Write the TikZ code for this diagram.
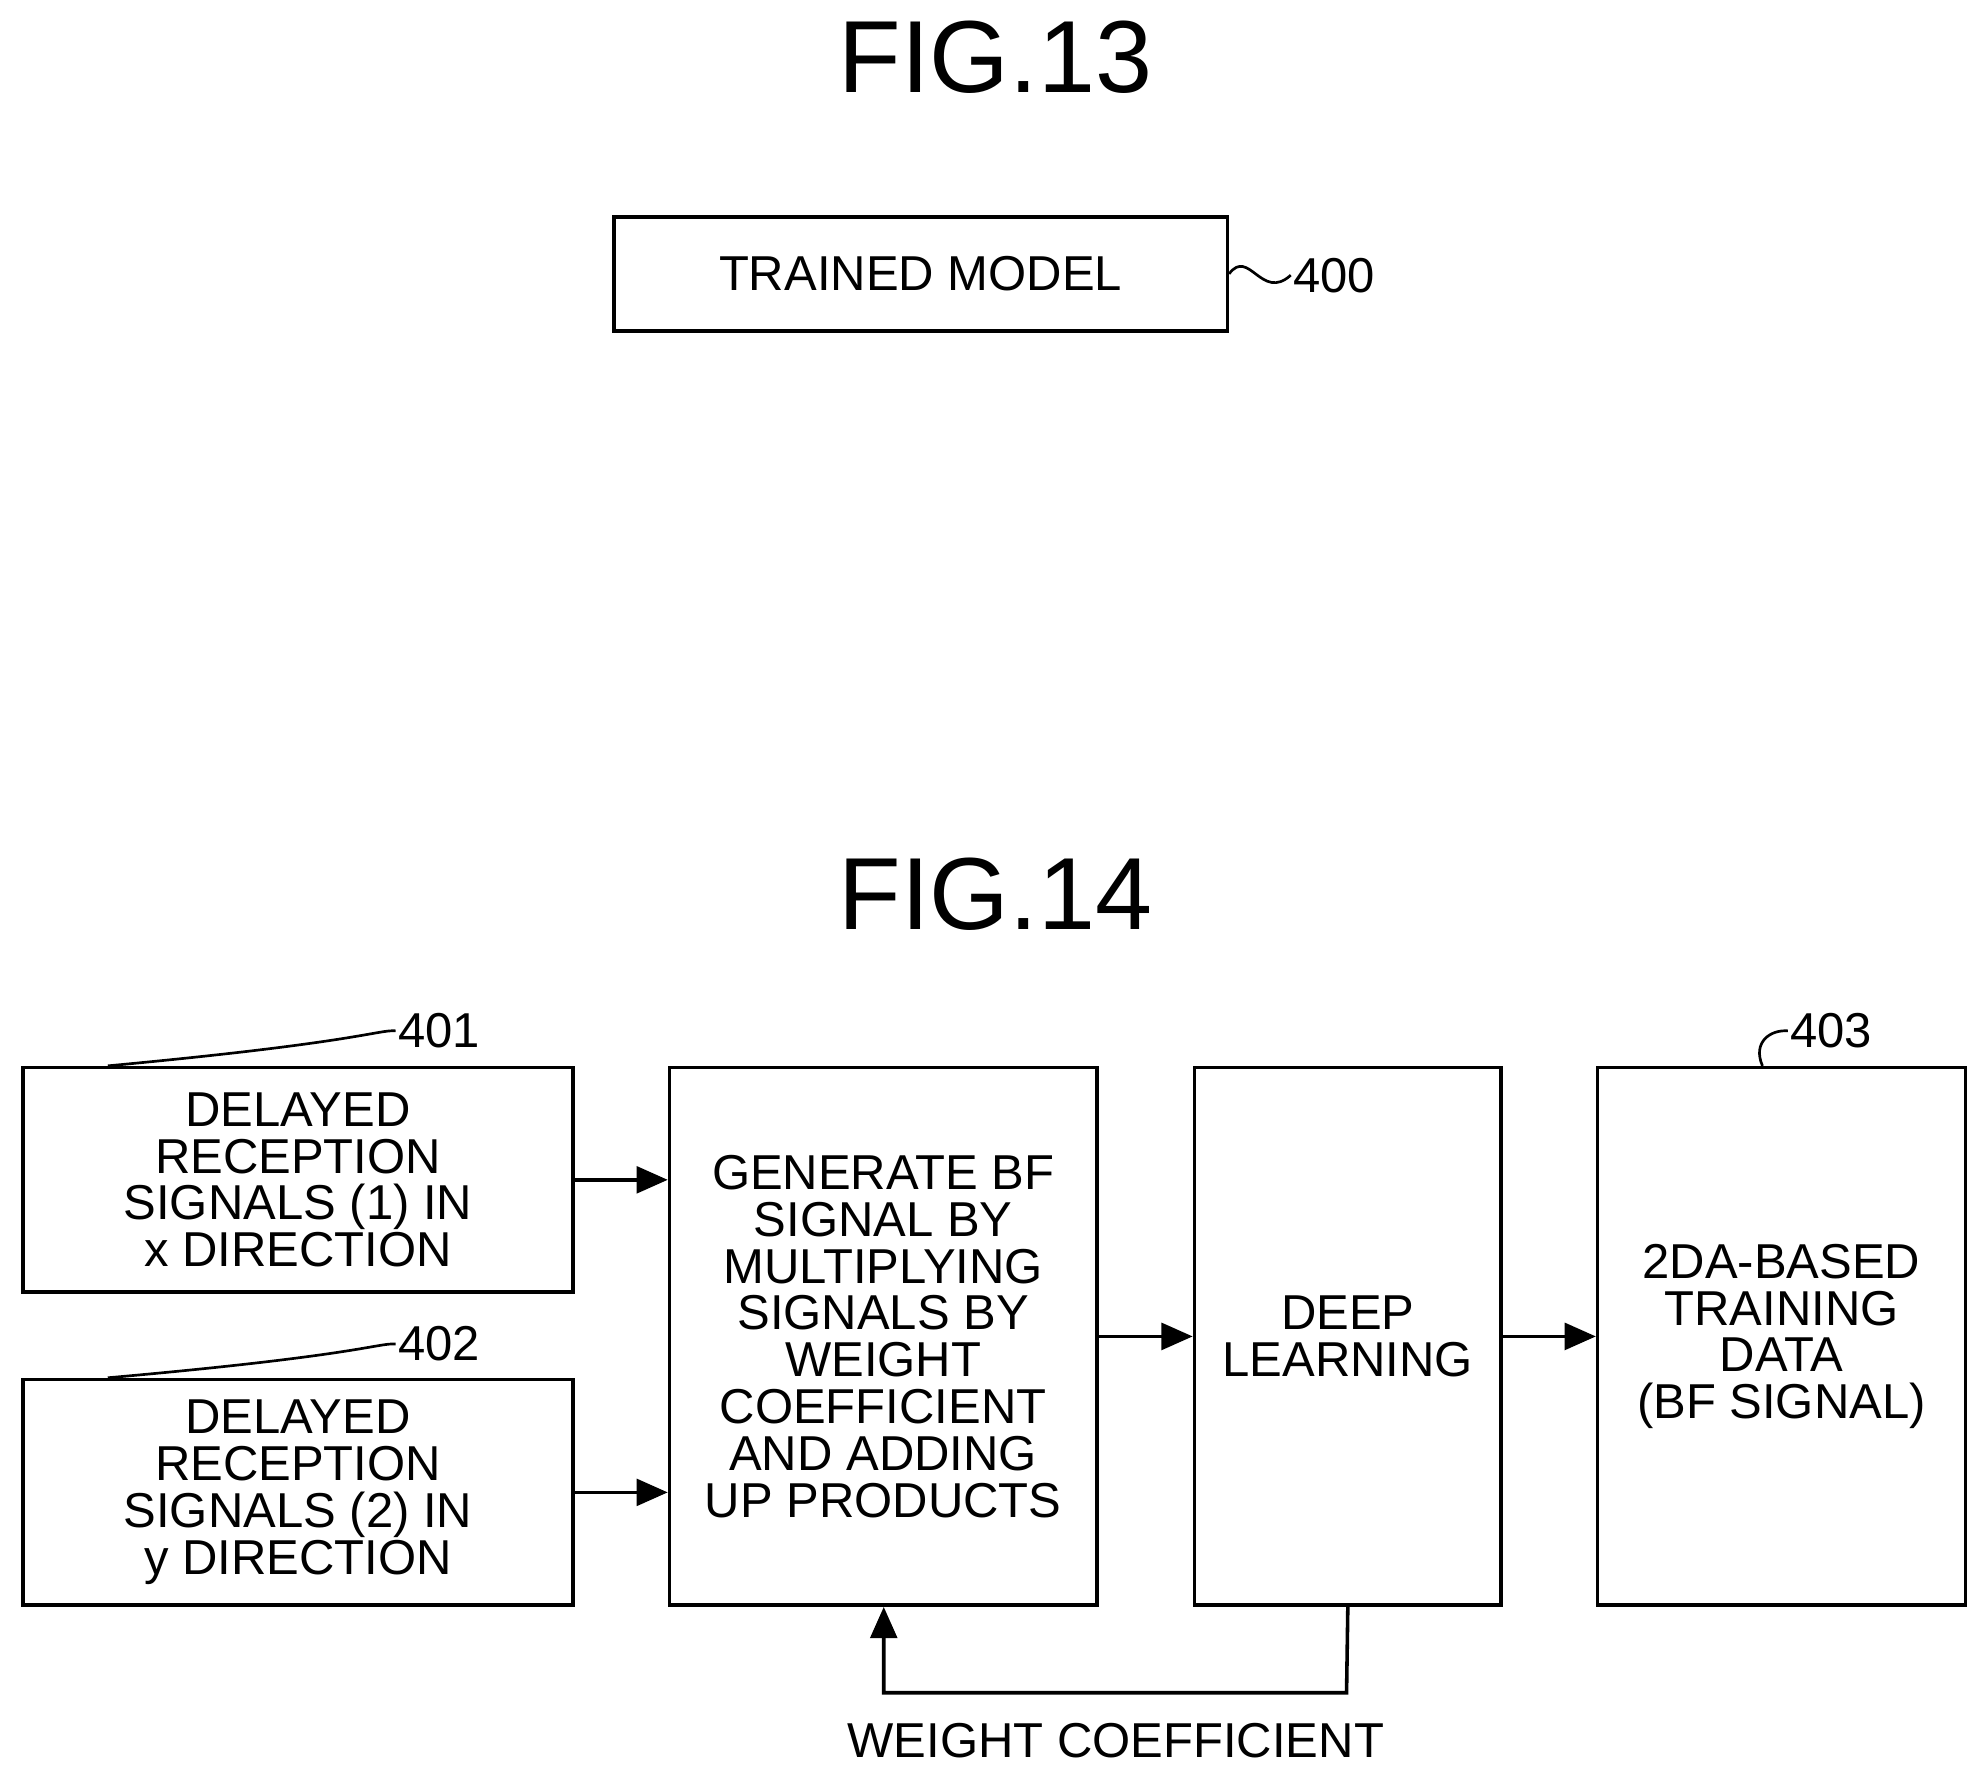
\documentclass[tikz,border=0pt]{standalone}
\usepackage{fontspec}
\setmainfont{Liberation Sans}
\usetikzlibrary{arrows.meta, positioning}
\tikzset{
  block/.style={rectangle, draw=black, line width=1.6pt, align=center, font=\fontsize{22}{21}\selectfont, inner sep=0pt},
  reflabel/.style={font=\fontsize{22}{21}\selectfont, anchor=west, inner sep=1pt},
  figtitle/.style={font=\fontsize{46}{46}\selectfont},
  arrow/.style={line width=1.6pt, -{Triangle[length=14pt, width=12pt]}},
  squig/.style={line width=1.2pt}
}
\begin{document}
\begin{tikzpicture}[x=0.02cm, y=-0.02cm]
  \useasboundingbox (0,0) rectangle (1560,1396);

  % FIG.13
  \node[figtitle] (fig13) at (785,45) {FIG.13};
  \node[block, minimum width=9.68cm, minimum height=1.8cm] (model) at (726,216) {TRAINED MODEL};
  \node[reflabel] (l400) at (1018,217) {400};
  \draw[squig] (model.east) .. controls (985,195) and (995,238) .. (l400.west);

  % FIG.14
  \node[figtitle] (fig14) at (785,705) {FIG.14};
  \node[block, minimum width=8.68cm, minimum height=3.54cm] (delx) at (235,930.5)
    {DELAYED\\RECEPTION\\SIGNALS (1) IN\\x DIRECTION};
  \node[block, minimum width=8.68cm, minimum height=3.56cm] (dely) at (235,1177)
    {DELAYED\\RECEPTION\\SIGNALS (2) IN\\y DIRECTION};
  \node[block, minimum width=6.74cm, minimum height=8.48cm] (gen) at (696.5,1054)
    {GENERATE BF\\SIGNAL BY\\MULTIPLYING\\SIGNALS BY\\WEIGHT\\COEFFICIENT\\AND ADDING\\UP PRODUCTS};
  \node[block, minimum width=4.84cm, minimum height=8.48cm] (deep) at (1063,1054)
    {DEEP\\LEARNING};
  \node[block, minimum width=5.8cm, minimum height=8.48cm] (train) at (1405,1054)
    {2DA-BASED\\TRAINING\\DATA\\(BF SIGNAL)};

  % reference numerals
  \node[reflabel] (l401) at (312,813) {401};
  \node[reflabel] (l402) at (312,1060) {402};
  \node[reflabel] (l403) at (1410,813) {403};
  \draw[squig] ([xshift=-3cm]delx.north) .. controls (284,822) and (298,812) .. (l401.west);
  \draw[squig] ([xshift=-3cm]dely.north) .. controls (284,1069) and (298,1059) .. (l402.west);
  \draw[squig] ([xshift=-0.3cm]train.north) .. controls (1382,822) and (1396,812) .. (l403.west);

  % arrows
  \draw[arrow] (delx.east) -- (gen.west |- delx.east);
  \draw[arrow] (dely.east) -- (gen.west |- dely.east);
  \draw[arrow] (gen.east) -- (deep.west);
  \draw[arrow] (deep.east) -- (train.west);
  \coordinate (fbR) at (1062,1335);
  \coordinate (fbL) at (697,1335);
  \draw[arrow] (deep.south) -- (fbR) -- (fbL) -- (fbL |- gen.south);
  \node[font=\fontsize{22}{21}\selectfont] (wlabel) at (880,1373) {WEIGHT COEFFICIENT};
\end{tikzpicture}
\end{document}
